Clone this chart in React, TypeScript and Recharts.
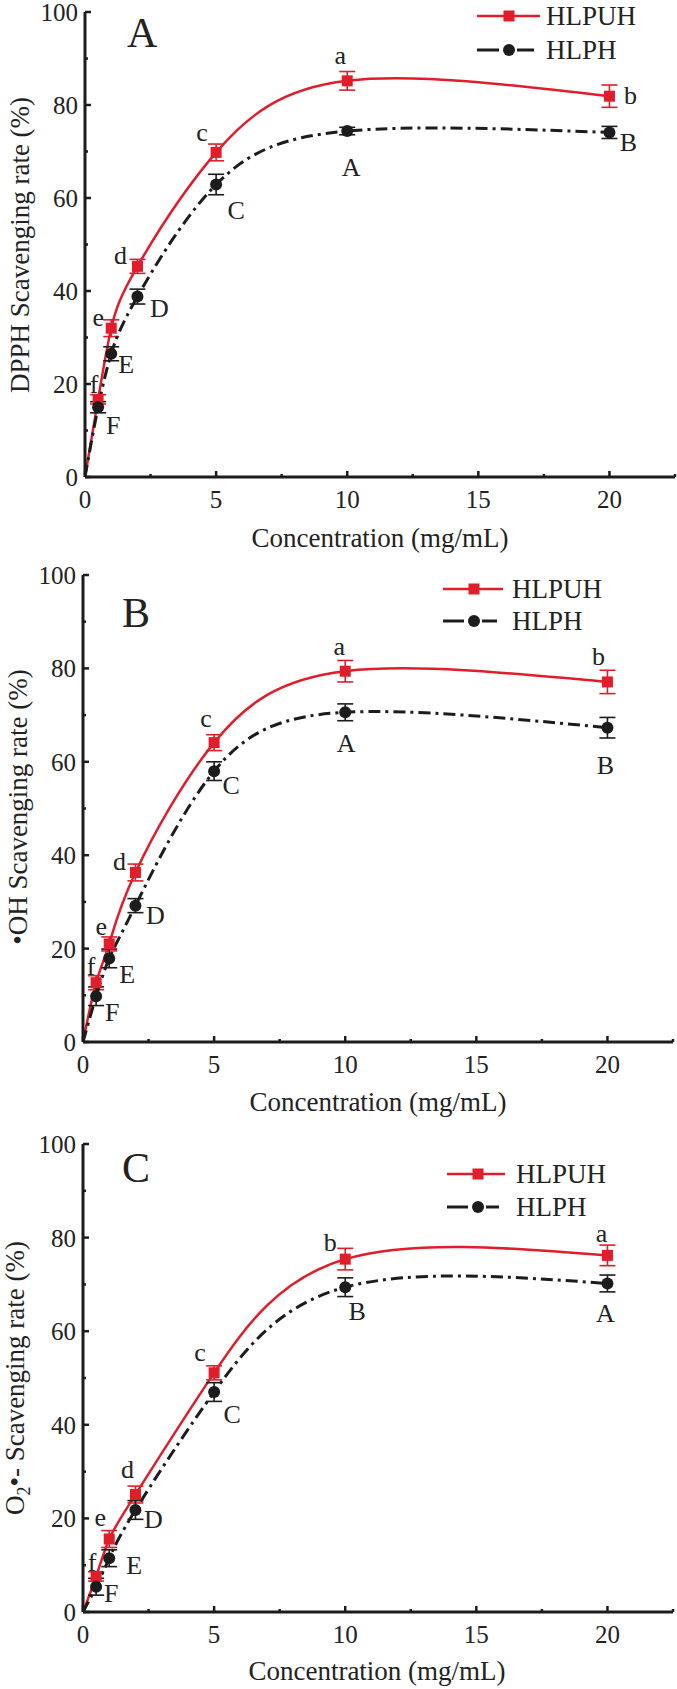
import React from 'react';
import { LineChart, Line, XAxis, YAxis, ErrorBar, LabelList } from 'recharts';

// ---------- shared data ----------
const concentrations = [0, 0.5, 1, 2, 5, 10, 20];
const xTicks = [0, 2.5, 5, 7.5, 10, 12.5, 15, 17.5, 20, 22.5];
const xMajor = [0, 5, 10, 15, 20];
const yTicks = [0, 10, 20, 30, 40, 50, 60, 70, 80, 90, 100];
const yMajor = [0, 20, 40, 60, 80, 100];
const seriesNames = ['HLPUH', 'HLPH'];

// ---------- panel A: DPPH ----------
const dpphHLPUH = [0, 16.7, 32.0, 45.3, 69.8, 85.2, 81.9];
const dpphHLPUHErr = [null, 1.0, 1.8, 1.5, 1.8, 2.0, 2.4];
const dpphHLPH = [0, 15.0, 26.5, 38.8, 62.9, 74.4, 74.1];
const dpphHLPHErr = [null, 1.2, 1.5, 1.6, 2.2, 0.8, 1.3];
const dpphHLPUHLetters = ['', 'f', 'e', 'd', 'c', 'a', 'b'];
const dpphHLPHLetters = ['', 'F', 'E', 'D', 'C', 'A', 'B'];

// ---------- panel B: •OH ----------
const ohHLPUH = [0, 12.7, 21.0, 36.3, 64.1, 79.4, 77.1];
const ohHLPUHErr = [null, 1.5, 1.5, 1.8, 1.7, 2.3, 2.5];
const ohHLPH = [0, 9.8, 17.9, 29.2, 58.0, 70.6, 67.3];
const ohHLPHErr = [null, 2.0, 2.0, 1.5, 2.0, 1.8, 2.2];
const ohHLPUHLetters = ['', 'f', 'e', 'd', 'c', 'a', 'b'];
const ohHLPHLetters = ['', 'F', 'E', 'D', 'C', 'A', 'B'];

// ---------- panel C: O2•- ----------
const o2HLPUH = [0, 7.6, 15.6, 25.1, 51.1, 75.4, 76.2];
const o2HLPUHErr = [null, 1.0, 1.8, 1.8, 1.5, 2.3, 2.2];
const o2HLPH = [0, 5.4, 11.5, 21.8, 47.0, 69.4, 70.2];
const o2HLPHErr = [null, 1.8, 1.8, 2.0, 2.0, 2.0, 1.8];
const o2HLPUHLetters = ['', 'f', 'e', 'd', 'c', 'b', 'a'];
const o2HLPHLetters = ['', 'F', 'E', 'D', 'C', 'B', 'A'];

// ---------- layout (positions of letter annotations relative to points) ----------
const offsetsA_red = [[0, 0], [-4, -15], [-13, -11], [-17, -11], [-14, -20], [-7, -26], [21, -1]];
const offsetsA_blk = [[0, 0], [15, 18], [15, 10], [22, 11], [20, 25], [4, 36], [19, 10]];
const offsetsB_red = [[0, 0], [-5, -17], [-8, -18], [-16, -11], [-8, -25], [-6, -25], [-9, -26]];
const offsetsB_blk = [[0, 0], [16, 16], [18, 16], [20, 9], [17, 14], [1, 31], [-2, 37]];
const offsetsC_red = [[0, 0], [-4, -14], [-9, -22], [-8, -26], [-14, -21], [-15, -17], [-6, -22]];
const offsetsC_blk = [[0, 0], [15, 6], [25, 7], [18, 9], [18, 22], [12, 24], [-2, 30]];

const RED = '#e11d2b';
const BLK = '#1c1c1c';
const FONT = '"Liberation Serif", "Times New Roman", serif';
const TXT = '#222';

const XTick = (props: any) => {
  const { x, y, payload } = props;
  const v = payload.value;
  const major = xMajor.includes(v);
  return (
    <g>
      <line x1={x} x2={x} y1={y} y2={y - (major ? 6 : 3)} stroke={BLK} strokeWidth={2.5} />
      {major && (
        <text x={x} y={y + 31} textAnchor="middle" fontFamily={FONT} fontSize={25} fill={TXT}>
          {v}
        </text>
      )}
    </g>
  );
};

const YTick = (props: any) => {
  const { x, y, payload } = props;
  const v = payload.value;
  const major = yMajor.includes(v);
  return (
    <g>
      <line x1={x} x2={x + (major ? 6 : 3)} y1={y} y2={y} stroke={BLK} strokeWidth={2.5} />
      {major && (
        <text x={x - 7} y={y + 9} textAnchor="end" fontFamily={FONT} fontSize={25} fill={TXT}>
          {v}
        </text>
      )}
    </g>
  );
};

const SquareDot = (props: any) => {
  const { cx, cy, index } = props;
  if (index === 0 || cx == null) return <g key={`s${index}`} />;
  return <rect key={`s${index}`} x={cx - 5.5} y={cy - 5.5} width={11} height={11} fill={RED} />;
};
const CircleDot = (props: any) => {
  const { cx, cy, index } = props;
  if (index === 0 || cx == null) return <g key={`c${index}`} />;
  return <circle key={`c${index}`} cx={cx} cy={cy} r={6} fill={BLK} />;
};

const makeLetter = (letters: string[], offsets: number[][]) => (props: any) => {
  const { x, y, value } = props;
  if (!value) return null;
  const i = letters.indexOf(value);
  const off = offsets[i] || [0, 0];
  return (
    <text x={x + off[0]} y={y + off[1] + 9} textAnchor="middle" fontFamily={FONT} fontSize={26} fill={TXT}>
      {value}
    </text>
  );
};

type PanelCfg = {
  top: number;
  height: number;
  mTop: number;
  mRight: number;
  yAxisW: number;
  xAxisH: number;
  red: number[];
  redErr: (number | null)[];
  blk: number[];
  blkErr: (number | null)[];
  redLetters: string[];
  blkLetters: string[];
  redOff: number[][];
  blkOff: number[][];
  letter: string;
  letterPos: [number, number];
  legend: { y1: number; y2: number; x0: number; x1: number; xm: number; xt: number };
  xTitle: [number, number];
  yTitle: [number, number];
  yTitleNode: React.ReactNode;
};

function Panel({ cfg }: { cfg: PanelCfg }) {
  const data = concentrations.map((x, i) => ({
    x,
    r: cfg.red[i],
    re: cfg.redErr[i],
    rl: cfg.redLetters[i],
    b: cfg.blk[i],
    be: cfg.blkErr[i],
    bl: cfg.blkLetters[i],
  }));
  const L = cfg.legend;
  return (
    <div style={{ position: 'absolute', left: 0, top: cfg.top, width: 677, height: cfg.height }}>
      <LineChart
        width={677}
        height={cfg.height}
        data={data}
        margin={{ top: cfg.mTop, right: cfg.mRight, bottom: 0, left: 0 }}
      >
        <XAxis
          type="number"
          dataKey="x"
          domain={[0, 22.5]}
          ticks={xTicks}
          interval={0}
          height={cfg.xAxisH}
          tickSize={0}
          tickMargin={0}
          tickLine={false}
          axisLine={{ stroke: BLK, strokeWidth: 3 }}
          tick={<XTick />}
          allowDataOverflow
        />
        <YAxis
          type="number"
          domain={[0, 100]}
          ticks={yTicks}
          interval={0}
          width={cfg.yAxisW}
          tickSize={0}
          tickMargin={0}
          tickLine={false}
          axisLine={{ stroke: BLK, strokeWidth: 3 }}
          tick={<YTick />}
          allowDataOverflow
        />
        <Line
          dataKey="r"
          name={seriesNames[0]}
          type="natural"
          stroke={RED}
          strokeWidth={2.5}
          dot={SquareDot}
          activeDot={false}
          isAnimationActive={false}
        >
          <ErrorBar dataKey="re" width={8} strokeWidth={1.6} stroke={RED} direction="y" />
          <LabelList dataKey="rl" content={makeLetter(cfg.redLetters, cfg.redOff)} />
        </Line>
        <Line
          dataKey="b"
          name={seriesNames[1]}
          type="natural"
          stroke={BLK}
          strokeWidth={3}
          strokeDasharray="12 5 3 5"
          dot={CircleDot}
          activeDot={false}
          isAnimationActive={false}
        >
          <ErrorBar dataKey="be" width={8} strokeWidth={1.6} stroke={BLK} direction="y" />
          <LabelList dataKey="bl" content={makeLetter(cfg.blkLetters, cfg.blkOff)} />
        </Line>
      </LineChart>
      <svg
        width={677}
        height={cfg.height}
        style={{ position: 'absolute', left: 0, top: 0, pointerEvents: 'none' }}
      >
        {/* panel letter */}
        <text x={cfg.letterPos[0]} y={cfg.letterPos[1]} fontFamily={FONT} fontSize={42} fill={TXT}>
          {cfg.letter}
        </text>
        {/* legend */}
        <line x1={L.x0} x2={L.x1} y1={L.y1} y2={L.y1} stroke={RED} strokeWidth={2.5} />
        <rect x={L.xm - 5.5} y={L.y1 - 5.5} width={11} height={11} fill={RED} />
        <text x={L.xt} y={L.y1 + 9} fontFamily={FONT} fontSize={27} fill={TXT}>
          {seriesNames[0]}
        </text>
        <line x1={L.x0} x2={L.xm - 10} y1={L.y2} y2={L.y2} stroke={BLK} strokeWidth={3} />
        <line x1={L.xm + 8} x2={L.x1 - 6} y1={L.y2} y2={L.y2} stroke={BLK} strokeWidth={3} />
        <circle cx={L.xm} cy={L.y2} r={6} fill={BLK} />
        <text x={L.xt} y={L.y2 + 9} fontFamily={FONT} fontSize={27} fill={TXT}>
          {seriesNames[1]}
        </text>
        {/* axis titles */}
        <text x={cfg.xTitle[0]} y={cfg.xTitle[1]} textAnchor="middle" fontFamily={FONT} fontSize={27} fill={TXT}>
          Concentration (mg/mL)
        </text>
        <text
          x={0}
          y={0}
          transform={`translate(${cfg.yTitle[0]},${cfg.yTitle[1]}) rotate(-90)`}
          textAnchor="middle"
          fontFamily={FONT}
          fontSize={27}
          fill={TXT}
        >
          {cfg.yTitleNode}
        </text>
      </svg>
    </div>
  );
}

const panels: PanelCfg[] = [
  {
    top: 0,
    height: 563,
    mTop: 12,
    mRight: 2,
    yAxisW: 85,
    xAxisH: 86,
    red: dpphHLPUH,
    redErr: dpphHLPUHErr,
    blk: dpphHLPH,
    blkErr: dpphHLPHErr,
    redLetters: dpphHLPUHLetters,
    blkLetters: dpphHLPHLetters,
    redOff: offsetsA_red,
    blkOff: offsetsA_blk,
    letter: 'A',
    letterPos: [127, 47],
    legend: { y1: 16, y2: 50, x0: 477, x1: 540, xm: 509, xt: 546 },
    xTitle: [380, 547],
    yTitle: [29, 245],
    yTitleNode: 'DPPH Scavenging rate (%)',
  },
  {
    top: 563,
    height: 563,
    mTop: 12,
    mRight: 4,
    yAxisW: 83,
    xAxisH: 84,
    red: ohHLPUH,
    redErr: ohHLPUHErr,
    blk: ohHLPH,
    blkErr: ohHLPHErr,
    redLetters: ohHLPUHLetters,
    blkLetters: ohHLPHLetters,
    redOff: offsetsB_red,
    blkOff: offsetsB_blk,
    letter: 'B',
    letterPos: [122, 64],
    legend: { y1: 26, y2: 58, x0: 443, x1: 503, xm: 474, xt: 512 },
    xTitle: [378, 548],
    yTitle: [27, 244],
    yTitleNode: '•OH Scavenging rate (%)',
  },
  {
    top: 1126,
    height: 563,
    mTop: 18,
    mRight: 4,
    yAxisW: 83,
    xAxisH: 77,
    red: o2HLPUH,
    redErr: o2HLPUHErr,
    blk: o2HLPH,
    blkErr: o2HLPHErr,
    redLetters: o2HLPUHLetters,
    blkLetters: o2HLPHLetters,
    redOff: offsetsC_red,
    blkOff: offsetsC_blk,
    letter: 'C',
    letterPos: [122, 56],
    legend: { y1: 48, y2: 81, x0: 447, x1: 505, xm: 478, xt: 516 },
    xTitle: [377, 554],
    yTitle: [24, 252],
    yTitleNode: (
      <>
        <tspan>O</tspan>
        <tspan dy={6} fontSize={18}>2</tspan>
        <tspan dy={-6}>•- Scavenging rate (%)</tspan>
      </>
    ),
  },
];

export default function App() {
  return (
    <div
      style={{
        position: 'absolute',
        left: 0,
        top: 0,
        width: 677,
        height: 1689,
        background: '#ffffff',
        overflow: 'hidden',
      }}
    >
      {panels.map((p, i) => (
        <Panel key={i} cfg={p} />
      ))}
    </div>
  );
}
